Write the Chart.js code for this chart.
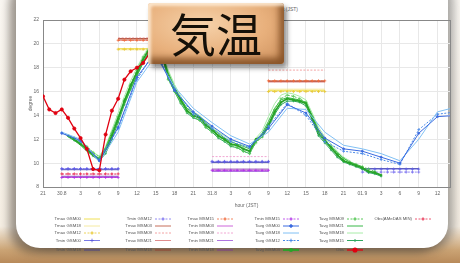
<!DOCTYPE html>
<html>
<head>
<meta charset="utf-8">
<script src="https://cdn.jsdelivr.net/npm/chart.js@4.4.0/dist/chart.umd.min.js"></script>
<style>
  html, body { margin: 0; padding: 0; }
  body {
    width: 460px; height: 263px; overflow: hidden; position: relative;
    background: linear-gradient(to bottom, #fbf8f3 0%, #f6efe4 86%, #cba475 95%, #b88a5a 100%);
  }
  #panel {
    position: absolute; left: 16px; top: -24px; width: 432px; height: 272px;
    border-radius: 24px; background: #fff;
    box-shadow: -7px 5px 9px rgba(70, 60, 50, 0.5), 6px 2px 8px rgba(60, 60, 60, 0.4);
  }
  #chart { position: absolute; left: 0; top: 0; filter: blur(0.35px); }
  #subtitle {
    position: absolute; right: 162px; top: 6px; font: 5px "Liberation Sans", sans-serif; color: #666;
  }
  #badge {
    position: absolute; left: 148px; top: 3px; width: 136px; height: 61px; border-radius: 3px;
    background: radial-gradient(ellipse at 40% 35%, #f6d2aa 0%, #e8b07c 55%, #c98d5a 100%);
    box-shadow: inset 3px 3px 3px rgba(255, 240, 220, 0.8), inset -5px -6px 6px rgba(110, 60, 20, 0.7),
      3px 4px 5px rgba(0, 0, 0, 0.45);
    font-family: "Noto Sans CJK JP", sans-serif; font-size: 46px; line-height: 58px;
    text-align: center; color: #151008;
  }
</style>
</head>
<body>
<div id="panel"></div>
<div id="subtitle">Temperature forecast (JST)</div>
<canvas id="chart" width="460" height="263"></canvas>
<div id="badge">気温</div>
<script>
// x = hours since 21:00 of the first day, one tick every 3 hours
const xTickLabels = ["21", "30.8", "3", "6", "9", "12", "15", "18", "21", "31.8", "3", "6",
  "9", "12", "15", "18", "21", "01.9", "3", "6", "9", "12"];

// time windows (hours) of the daily max / min bars
const tmaxWindows = [[12, 21], [36, 45]];
const tminWindows = [[3, 12], [27, 36], [51, 60]];

// daily max / min per window
const tmaxGsm00 = [19.6, 16.1];
const tmaxGsm18 = [19.5, 16.2];
const tmaxGsm12 = [19.55, 16.0];
const tminGsm00 = [9.5, 10.1, 9.5];
const tminGsm18 = [9.45, 10.05, 9.55];
const tminGsm12 = [9.55, 10.15, 9.25];
const tmaxMsm03 = [20.4, 16.9];
const tmaxMsm09 = [20.5, 17.8];
const tmaxMsm21 = [20.3, 16.8];
const tmaxMsm18 = [20.45, 16.85];
const tmaxMsm15 = [20.3, 16.9];
const tminMsm03 = [8.8, 9.4];
const tminMsm09 = [9.05, 10.55];
const tminMsm21 = [8.85, 9.3];
const tminMsm18 = [8.9, 9.5];
const tminMsm15 = [8.8, 9.4];
const obsMin = [9.1];

// GSM temps, every 3 hours starting at hour 3
const tavgGsm00 = [12.5, 11.9, 10.2, 13.0, 17.2, 19.3, 16.1, 14.3, 13.1, 12.0, 11.4, 12.9, 14.9, 14.2, 12.1, 11.2, 11.0, 10.5, 10.0, 12.5, 13.9, 14.0];
const tavgGsm18 = [12.6, 12.0, 10.1, 12.6, 16.8, 19.0, 16.4, 14.6, 13.4, 12.3, 11.6, 12.6, 14.6, 14.5, 12.6, 11.5, 11.2, 10.8, 10.2, 12.0, 14.3, 14.7];
const tavgGsm12 = [12.55, 11.8, 10.3, 12.9, 17.0, 19.5, 16.2, 14.1, 12.9, 11.8, 11.3, 13.1, 15.0, 14.0, 11.8, 11.0, 10.8, 10.3, 9.9, 12.8, 14.1, 14.3];

// MSM hourly temps (start hour, values)
const msm03Start = 4;
const tavgMsm03 = [12.3, 12.0, 11.6, 11.2, 10.7, 10.3, 11.0, 12.3, 13.7, 15.2, 16.5, 17.6, 18.7, 19.6, 20.0, 19.2, 17.3, 16.2, 15.3, 14.4,
  14.0, 13.8, 13.2, 12.8, 12.3, 12.0, 11.6, 11.5, 11.2, 11.0, 12.0, 12.3, 13.2, 14.3, 15.1, 15.4, 15.3, 15.2, 15.0, 13.8,
  12.5, 11.9, 11.3, 10.7, 10.2, 10.0, 9.8, 9.6, 9.3, 9.2, 9.0];
const msm09Start = 5;
const tavgMsm09 = [12.1, 11.8, 11.4, 10.9, 10.5, 11.2, 12.5, 13.9, 15.3, 16.6, 17.8, 18.9, 19.7, 19.9, 19.0, 17.0, 16.0, 15.1, 14.3, 13.9,
  13.6, 13.0, 12.6, 12.2, 11.9, 11.5, 11.3, 11.0, 10.8, 11.7, 12.2, 13.0, 14.5, 15.4, 15.7, 15.6, 15.4, 15.1, 13.9, 12.7,
  12.0, 11.4, 10.8, 10.4, 10.1, 9.9, 9.7, 9.5, 9.3];
const msm21Start = 4;
const tavgMsm21 = [12.2, 11.9, 11.5, 11.0, 10.6, 10.4, 11.3, 12.6, 13.9, 15.0, 16.2, 17.3, 18.4, 19.3, 19.8, 19.1, 17.6, 16.4, 15.4, 14.6,
  14.2, 13.9, 13.4, 12.9, 12.5, 12.1, 11.8, 11.6, 11.4, 11.2, 11.9, 12.5, 13.5, 14.6, 15.3, 15.5, 15.4, 15.3, 15.1, 14.0,
  12.8, 12.0, 11.4, 10.9, 10.4, 10.1, 9.9, 9.7];
const msm18Start = 4;
const tavgMsm18 = [12.4, 12.1, 11.8, 11.4, 10.9, 10.6, 11.4, 12.8, 14.2, 15.6, 16.9, 18.0, 19.0, 19.8, 20.2, 19.4, 17.8, 16.6, 15.6, 14.8,
  14.3, 14.0, 13.5, 13.0, 12.6, 12.3, 11.9, 11.8, 11.5, 11.3, 12.1, 12.7, 13.9, 15.0, 15.7, 15.9, 15.8, 15.6, 15.3, 14.2,
  13.0, 12.2, 11.6, 11.0, 10.5, 10.2];
const msm15Start = 5;
const tavgMsm15 = [11.9, 11.6, 11.1, 10.6, 10.2, 10.8, 12.0, 13.4, 14.9, 16.2, 17.4, 18.5, 19.4, 19.9, 19.0, 17.1, 16.0, 15.0, 14.2, 13.8,
  13.6, 13.0, 12.6, 12.1, 11.8, 11.4, 11.3, 11.0, 10.8, 11.8, 12.2, 13.0, 14.1, 14.9, 15.2, 15.2, 15.1, 14.8, 13.6, 12.3,
  11.7, 11.1, 10.5, 10.1, 9.9, 9.7, 9.5, 9.2, 9.1, 8.9];

// observed hourly temps from hour 0
const obs = [15.6, 14.5, 14.2, 14.5, 13.8, 12.9, 12.1, 11.2, 9.5, 9.4, 12.4, 14.4, 15.4, 17.0, 17.7, 18.0, 18.4, 19.2, 19.8];

function hourly(start, values) {
  return values.map((v, i) => ({ x: start + i, y: v }));
}
function every3(start, values) {
  return values.map((v, i) => ({ x: start + 3 * i, y: v }));
}
function bars(wins, values) {
  const pts = [];
  values.forEach((v, i) => {
    if (v == null) return;
    for (let h = wins[i][0]; h <= wins[i][1]; h++) pts.push({ x: h, y: v });
    pts.push({ x: wins[i][1] + 0.5, y: null });
  });
  return pts;
}

function ds(label, data, color, opts) {
  return Object.assign({
    label: label, data: data, borderColor: color, backgroundColor: color,
    borderWidth: 0.8, pointRadius: 0, pointStyle: "cross", pointBorderWidth: 0.8, tension: 0, order: 2
  }, opts || {});
}
const mark = { pointRadius: 1.5, order: 1 };
const dash = { borderDash: [2, 1.5] };
const dashMark = Object.assign({}, dash, mark);

const datasets = [
  ds("Tmax GSM00", bars(tmaxWindows, tmaxGsm00), "#ecd82a"),
  ds("Tmax GSM18", bars(tmaxWindows, tmaxGsm18), "#f2e48a"),
  ds("Tmax GSM12", bars(tmaxWindows, tmaxGsm12), "#e8c830", dashMark),
  ds("Tmin GSM00", bars(tminWindows, tminGsm00), "#5858e0", mark),
  ds("Tmin GSM18", bars(tminWindows, tminGsm18), "#3a3a98"),
  ds("Tmin GSM12", bars(tminWindows, tminGsm12), "#7a70f0", dashMark),
  ds("Tmax MSM03", bars(tmaxWindows, tmaxMsm03), "#b84a30"),
  ds("Tmax MSM09", bars(tmaxWindows, tmaxMsm09), "#f08a8a", dash),
  ds("Tmax MSM21", bars(tmaxWindows, tmaxMsm21), "#d87070"),
  ds("Tmax MSM18", bars(tmaxWindows, tmaxMsm18), "#983828"),
  ds("Tmax MSM15", bars(tmaxWindows, tmaxMsm15), "#f06838", dashMark),
  ds("Tmin MSM03", bars(tminWindows, tminMsm03), "#c040d0"),
  ds("Tmin MSM09", bars(tminWindows, tminMsm09), "#ee90c8", dash),
  ds("Tmin MSM21", bars(tminWindows, tminMsm21), "#9a50d8"),
  ds("Tmin MSM18", bars(tminWindows, tminMsm18), "#7a30a0"),
  ds("Tmin MSM15", bars(tminWindows, tminMsm15), "#b030e8", dashMark),
  ds("Tavg GSM00", every3(3, tavgGsm00), "#3a6ae0", { borderWidth: 1, pointRadius: 1, pointStyle: "circle", order: 0 }),
  ds("Tavg GSM18", every3(3, tavgGsm18), "#80c0f4", { borderWidth: 1, order: 0 }),
  ds("Tavg GSM12", every3(3, tavgGsm12), "#4a8ae8", Object.assign({}, dashMark, { borderWidth: 1, order: 0 })),
  ds("Tavg MSM03", hourly(msm03Start, tavgMsm03), "#28a428", { borderWidth: 1.8, pointRadius: 0.9, pointStyle: "circle", order: 0 }),
  ds("Tavg MSM09", hourly(msm09Start, tavgMsm09), "#58c858", Object.assign({}, dashMark, { borderWidth: 1, order: 0 })),
  ds("Tavg MSM21", hourly(msm21Start, tavgMsm21), "#38b848", { borderWidth: 1, order: 0 }),
  ds("Tavg MSM18", hourly(msm18Start, tavgMsm18), "#a8eca8", { borderWidth: 1, order: 0 }),
  ds("Tavg MSM15", hourly(msm15Start, tavgMsm15), "#30a860", { borderWidth: 1, pointRadius: 1.2, order: 0 }),
  ds("Obs", hourly(0, obs), "#e00010", { borderWidth: 1.3, pointRadius: 1.6, pointStyle: "circle", order: -1 }),
  ds("Obs(AMeDAS MIN)", bars([tminWindows[0]], obsMin), "#e83050", dashMark)
];

// frame around the plot area and the grid-style legend under it
const framePlugin = {
  id: "frame",
  beforeDatasetsDraw(chart) {
    const a = chart.chartArea, ctx = chart.ctx;
    ctx.save();
    ctx.strokeStyle = "#888";
    ctx.lineWidth = 1;
    ctx.strokeRect(a.left + 0.5, a.top + 0.5, a.right - a.left, a.bottom - a.top);
    ctx.restore();
  },
  afterDraw(chart) {
    const ctx = chart.ctx;
    const colX = [84, 155, 217, 283, 347, 415];
    const rowY = [219, 226, 233, 240.5, 250];
    ctx.save();
    ctx.font = '4.3px "Liberation Sans", sans-serif';
    ctx.textBaseline = "middle";
    ctx.textAlign = "right";
    chart.data.datasets.forEach((d, i) => {
      const x = colX[Math.floor(i / 5)], y = rowY[i % 5];
      ctx.fillStyle = "#555";
      ctx.fillText(d.label, x - 3, y);
      ctx.strokeStyle = d.borderColor;
      ctx.lineWidth = d.borderWidth;
      ctx.setLineDash(d.borderDash || []);
      ctx.beginPath();
      ctx.moveTo(x, y);
      ctx.lineTo(x + 16, y);
      ctx.stroke();
      ctx.setLineDash([]);
      if (d.pointRadius > 0) {
        ctx.fillStyle = d.borderColor;
        Chart.helpers.drawPoint(ctx, { pointStyle: d.pointStyle, radius: d.pointRadius + 0.3, rotation: 0, borderWidth: 0.8 }, x + 8, y);
      }
    });
    ctx.restore();
  }
};

new Chart(document.getElementById("chart"), {
  type: "line",
  data: { datasets: datasets },
  options: {
    responsive: false,
    animation: false,
    devicePixelRatio: 1,
    layout: { padding: { left: 0, right: 10, top: 20, bottom: 54 } },
    plugins: { legend: { display: false }, tooltip: { enabled: false } },
    scales: {
      x: {
        type: "linear", min: 0, max: 65,
        afterFit(s) { s.height = 22; },
        border: { display: false },
        grid: { color: "#e8e8e8", drawTicks: false },
        ticks: {
          stepSize: 3, includeBounds: false, padding: 4, maxRotation: 0, autoSkip: false,
          font: { size: 5, family: "Liberation Sans" }, color: "#666",
          callback: v => xTickLabels[v / 3]
        },
        title: { display: true, text: "hour (JST)", font: { size: 5, family: "Liberation Sans" }, color: "#666", padding: 0 }
      },
      y: {
        min: 8, max: 22,
        afterFit(s) { s.width = 43; },
        border: { display: false },
        grid: { color: "#e8e8e8", drawTicks: false },
        ticks: { stepSize: 2, padding: 4, font: { size: 5, family: "Liberation Sans" }, color: "#666" },
        title: { display: true, text: "degree", font: { size: 5, family: "Liberation Sans" }, color: "#666", padding: { top: 28, bottom: 0 } }
      }
    }
  },
  plugins: [framePlugin]
});
</script>
</body>
</html>
